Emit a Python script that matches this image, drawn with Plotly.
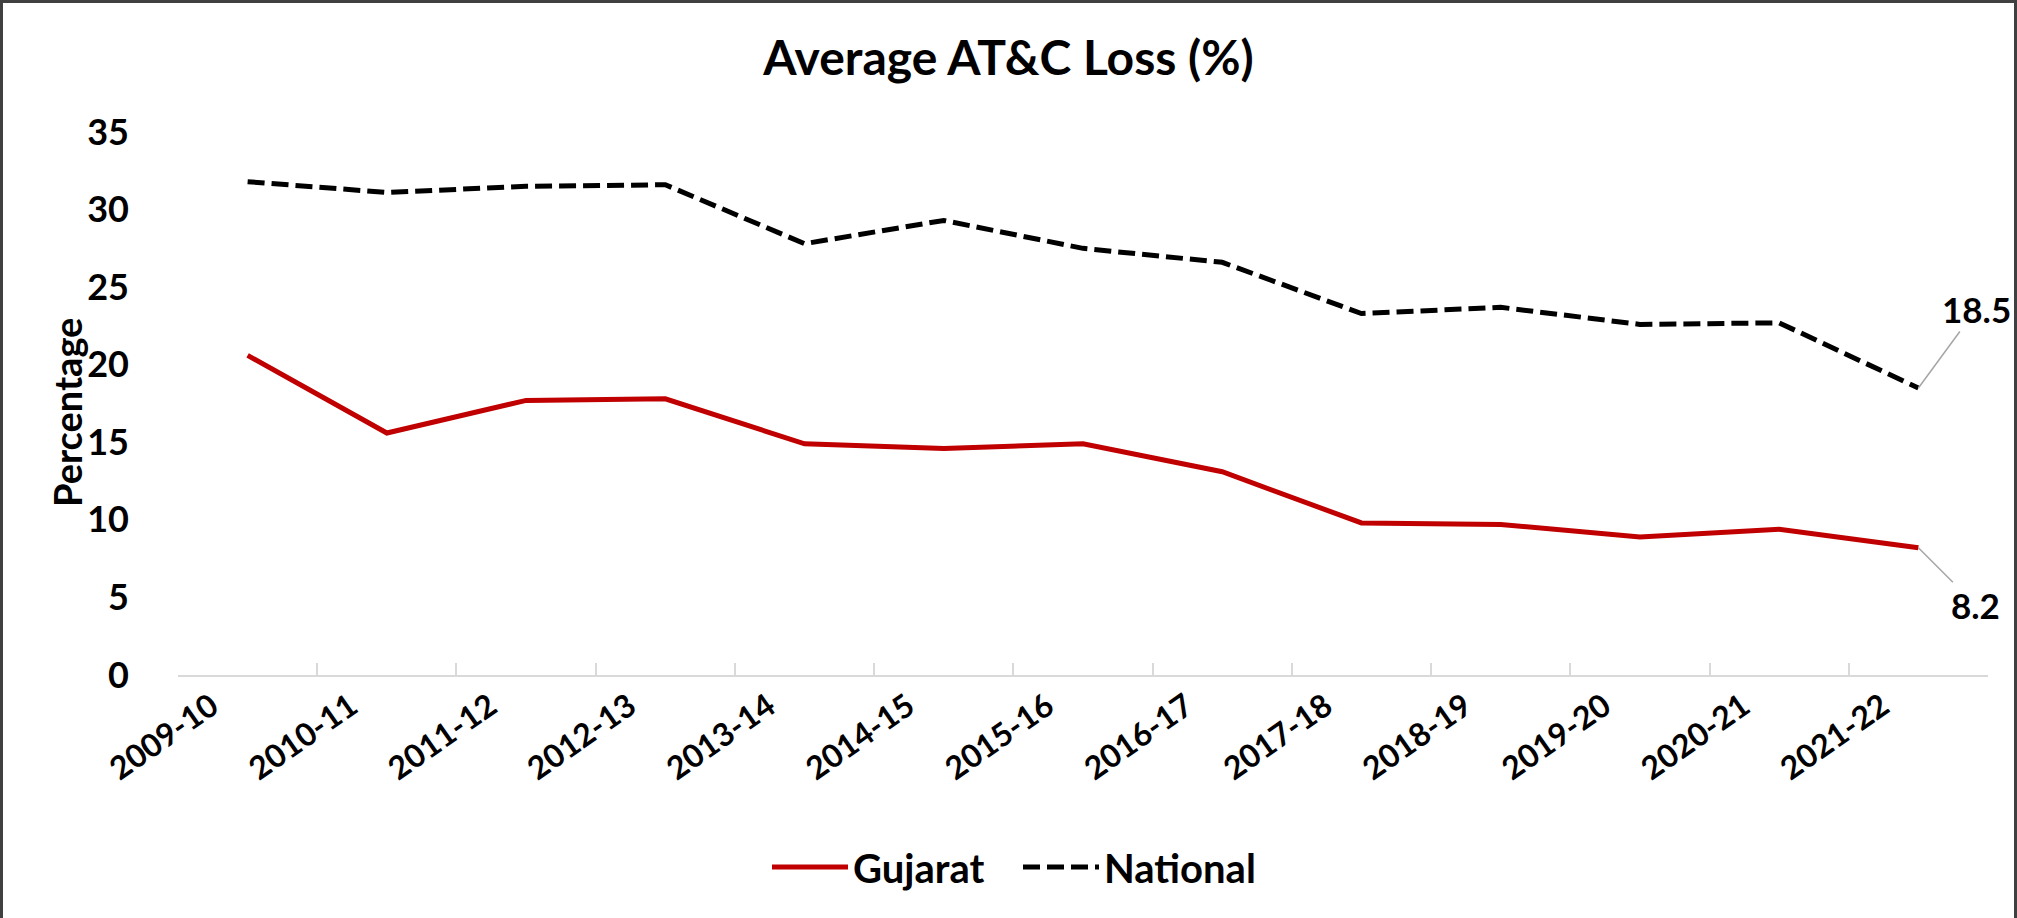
import plotly.graph_objects as go

# Financial years on the category axis
years = ["2009-10", "2010-11", "2011-12", "2012-13", "2013-14", "2014-15", "2015-16",
         "2016-17", "2017-18", "2018-19", "2019-20", "2020-21", "2021-22"]

# Average AT&C loss (%) per year
gujarat = [20.6, 15.6, 17.7, 17.8, 14.9, 14.6, 14.9, 13.1, 9.8, 9.7, 8.9, 9.4, 8.2]
national = [31.8, 31.1, 31.5, 31.6, 27.8, 29.3, 27.5, 26.6, 23.3, 23.7, 22.6, 22.7, 18.5]

y_ticks = [0, 5, 10, 15, 20, 25, 30, 35]

W, H = 2017, 918
ML, MR, MT, MB = 178, 29, 132, 243
FONT = "Lato"
pw = W - ML - MR
ph = H - MT - MB

fig = go.Figure()
fig.add_trace(go.Scatter(
    x=years, y=gujarat, mode="lines", name="Gujarat",
    line=dict(color="#C00000", width=5),
))
fig.add_trace(go.Scatter(
    x=years, y=national, mode="lines", name="National",
    line=dict(color="#000000", width=5, dash="17px,7px"),
))

# End-of-series value callouts with grey leader lines
fig.add_annotation(
    x=years[-1], y=national[-1], text=f"{national[-1]}",
    showarrow=True, arrowhead=0, arrowwidth=1.5, arrowcolor="#A6A6A6",
    ax=58, ay=-79, standoff=0,
    font=dict(family=FONT, size=35, color="black", weight="bold"),
)
fig.add_annotation(
    x=years[-1], y=gujarat[-1], text=f"{gujarat[-1]}",
    showarrow=True, arrowhead=0, arrowwidth=1.5, arrowcolor="#A6A6A6",
    ax=57, ay=57, standoff=0,
    font=dict(family=FONT, size=35, color="black", weight="bold"),
)

# Vertical axis title
fig.add_annotation(
    xref="paper", yref="paper",
    x=(67 - ML) / pw, y=(H - MB - 413) / ph,
    xanchor="center", yanchor="middle",
    text="Percentage", textangle=-90, showarrow=False,
    font=dict(family=FONT, size=38, color="black", weight="bold"),
)

# Outer frame around the whole chart
fig.add_shape(
    type="rect", xref="paper", yref="paper",
    x0=(1.5 - ML) / pw, x1=(W - 1.5 - ML) / pw,
    y0=(MB - H + 1.5) / ph, y1=(H - 1.5 - MB) / ph,
    line=dict(color="#404040", width=3), fillcolor="rgba(0,0,0,0)",
    layer="above",
)

fig.update_layout(
    width=W, height=H,
    margin=dict(l=ML, r=MR, t=MT, b=MB, autoexpand=False),
    paper_bgcolor="white", plot_bgcolor="white",
    font=dict(family=FONT, color="black"),
    title=dict(
        text="Average AT&C Loss (%)",
        x=0.5, xref="container", xanchor="center",
        y=1 - 58 / H, yref="container", yanchor="middle",
        font=dict(family=FONT, size=48, color="black", weight="bold"),
    ),
    showlegend=True,
    legend=dict(
        orientation="h",
        x=1018 / W, xref="container", xanchor="center",
        y=1 - 867 / H, yref="container", yanchor="middle",
        font=dict(family=FONT, size=40, color="black", weight="bold"),
        itemwidth=76,
        entrywidth=160, entrywidthmode="pixels",
        bgcolor="rgba(0,0,0,0)",
    ),
    xaxis=dict(
        type="category",
        range=[-0.5, len(years) - 0.5],
        showgrid=False, zeroline=False,
        showline=True, linecolor="#D9D9D9", linewidth=2,
        ticks="inside", ticklen=12, tickwidth=2, tickcolor="#D9D9D9",
        tickson="boundaries",
        tickangle=-35,
        ticklabelstandoff=-2,
        ticklabelshift=-36,
        tickfont=dict(family=FONT, size=32, color="black", weight="bold"),
        automargin=False,
    ),
    yaxis=dict(
        range=[0, 35],
        tickvals=y_ticks,
        showgrid=False, zeroline=False, showline=False,
        ticks="",
        ticklabelstandoff=48,
        tickfont=dict(family=FONT, size=36, color="black", weight="bold"),
        automargin=False,
    ),
)

fig.write_html("out.html")
